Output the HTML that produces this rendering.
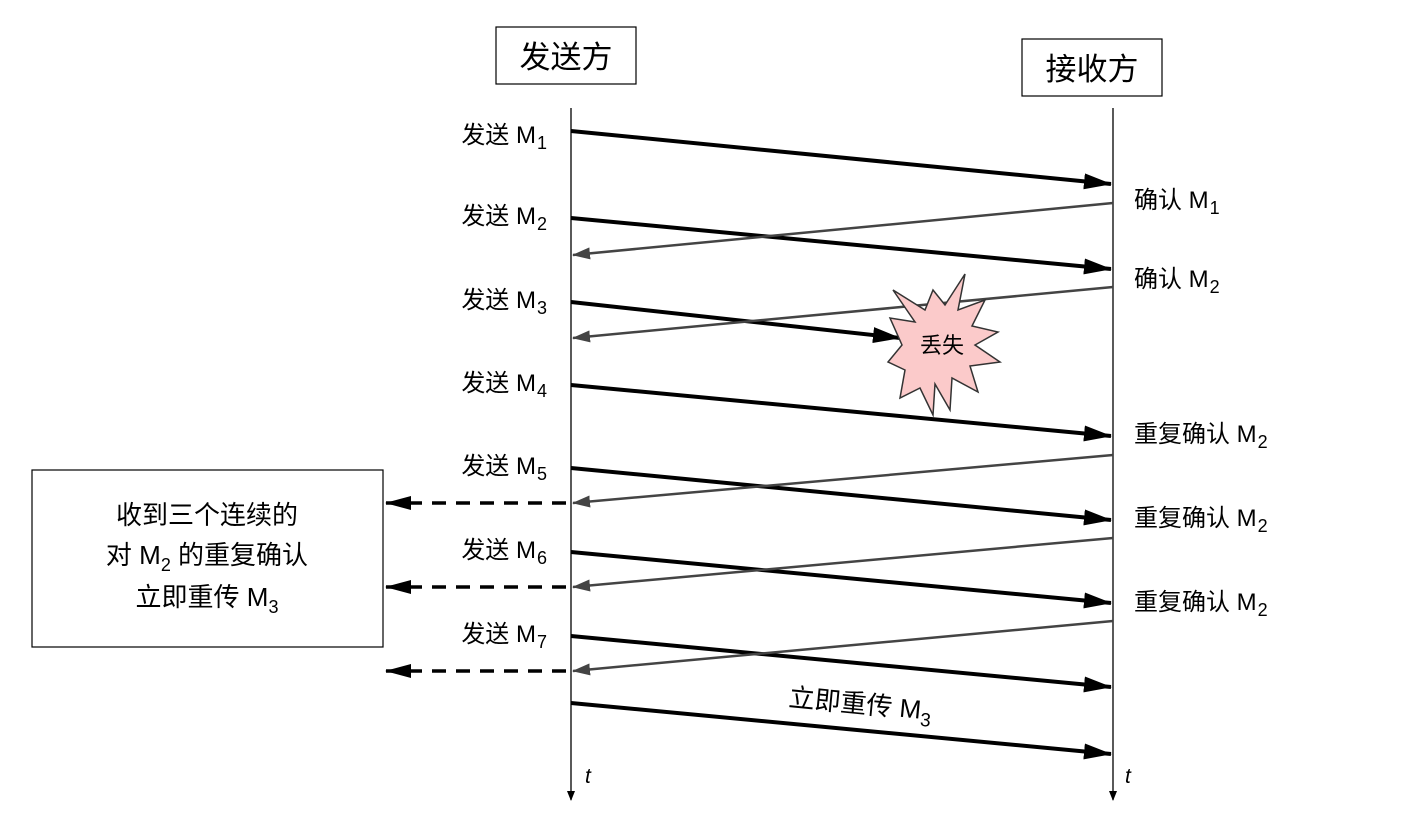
<!DOCTYPE html>
<html><head><meta charset="utf-8"><style>
html,body{margin:0;padding:0;background:#fff;}
svg{display:block;}
text{font-family:"Liberation Sans","Noto Sans CJK SC",sans-serif;fill:#000;}
</style></head><body>
<svg width="1418" height="820" viewBox="0 0 1418 820" xmlns="http://www.w3.org/2000/svg">
<defs>
<marker id="ab" markerWidth="28" markerHeight="16" refX="27" refY="8" orient="auto" markerUnits="userSpaceOnUse"><path d="M0,0 L28,8 L0,16 Z" fill="#000"/></marker>
<marker id="ag" markerWidth="18" markerHeight="12" refX="17" refY="6" orient="auto" markerUnits="userSpaceOnUse"><path d="M0,0 L18,6 L0,12 Z" fill="#444"/></marker>
<marker id="ad" markerWidth="26" markerHeight="14" refX="25" refY="7" orient="auto" markerUnits="userSpaceOnUse"><path d="M0,0 L26,7 L0,14 Z" fill="#000"/></marker>
<marker id="at" markerWidth="10" markerHeight="8" refX="9" refY="4" orient="auto" markerUnits="userSpaceOnUse"><path d="M0,0 L10,4 L0,8 Z" fill="#000"/></marker>
</defs>
<rect x="496" y="27" width="140" height="57" fill="#fff" stroke="#000" stroke-width="1.2"/>
<text x="566" y="68" font-size="31" text-anchor="middle">发送方</text>
<rect x="1022" y="39" width="140" height="57" fill="#fff" stroke="#000" stroke-width="1.2"/>
<text x="1092" y="80" font-size="31" text-anchor="middle">接收方</text>
<line x1="571" y1="108" x2="571" y2="800" stroke="#000" stroke-width="1.3" marker-end="url(#at)"/>
<line x1="1113" y1="108" x2="1113" y2="800" stroke="#000" stroke-width="1.3" marker-end="url(#at)"/>
<text x="585" y="783" font-size="21" font-style="italic">t</text>
<text x="1125" y="783" font-size="21" font-style="italic">t</text>
<g stroke="#000" stroke-width="4" marker-end="url(#ab)">
<line x1="571" y1="131" x2="1111" y2="184"/>
<line x1="571" y1="218" x2="1111" y2="269"/>
<line x1="571" y1="302" x2="900" y2="338"/>
<line x1="571" y1="385" x2="1111" y2="436"/>
<line x1="571" y1="468" x2="1111" y2="520"/>
<line x1="571" y1="552" x2="1111" y2="603"/>
<line x1="571" y1="636" x2="1111" y2="687"/>
<line x1="571" y1="703" x2="1111" y2="754"/>
</g>
<g stroke="#444" stroke-width="2.5" marker-end="url(#ag)">
<line x1="1113" y1="203" x2="573" y2="255"/>
<line x1="1113" y1="287" x2="573" y2="338"/>
<line x1="1113" y1="455" x2="573" y2="503"/>
<line x1="1113" y1="538" x2="573" y2="587"/>
<line x1="1113" y1="621" x2="573" y2="671"/>
</g>
<g stroke="#000" stroke-width="3.5" stroke-dasharray="14,10" marker-end="url(#ad)">
<line x1="566" y1="503" x2="386" y2="503"/>
<line x1="566" y1="587" x2="386" y2="587"/>
<line x1="566" y1="671" x2="386" y2="671"/>
</g>
<polygon points="965,274 958,310 985,300 972,326 998,332 975,345 1000,362 970,366 978,392 952,378 950,410 935,384 933,415 920,388 900,398 905,370 888,362 902,345 890,318 915,322 893,290 925,310 933,290 945,305" fill="#fbcaca" stroke="#333" stroke-width="1.5"/>
<text x="942" y="353" font-size="22" text-anchor="middle">丢失</text>
<g font-size="24" text-anchor="end">
<text x="547" y="143">发送 M<tspan font-size="18" dx="1" dy="6">1</tspan></text>
<text x="547" y="224">发送 M<tspan font-size="18" dx="1" dy="6">2</tspan></text>
<text x="547" y="308">发送 M<tspan font-size="18" dx="1" dy="6">3</tspan></text>
<text x="547" y="391">发送 M<tspan font-size="18" dx="1" dy="6">4</tspan></text>
<text x="547" y="474">发送 M<tspan font-size="18" dx="1" dy="6">5</tspan></text>
<text x="547" y="558">发送 M<tspan font-size="18" dx="1" dy="6">6</tspan></text>
<text x="547" y="642">发送 M<tspan font-size="18" dx="1" dy="6">7</tspan></text>
</g>
<g font-size="24">
<text x="1134" y="208">确认 M<tspan font-size="18" dx="1" dy="6">1</tspan></text>
<text x="1134" y="287">确认 M<tspan font-size="18" dx="1" dy="6">2</tspan></text>
<text x="1134" y="442">重复确认 M<tspan font-size="18" dx="1" dy="6">2</tspan></text>
<text x="1134" y="526">重复确认 M<tspan font-size="18" dx="1" dy="6">2</tspan></text>
<text x="1134" y="610">重复确认 M<tspan font-size="18" dx="1" dy="6">2</tspan></text>
</g>
<text x="788" y="706" font-size="26" transform="rotate(5.5 788 706)">立即重传 M<tspan font-size="19" dy="7">3</tspan></text>
<rect x="32" y="470" width="351" height="177" fill="#fff" stroke="#000" stroke-width="1.2"/>
<g font-size="26" text-anchor="middle">
<text x="207" y="524">收到三个连续的</text>
<text x="207" y="564">对 M<tspan font-size="18" dy="7">2</tspan><tspan dy="-7"> 的重复确认</tspan></text>
<text x="207" y="606">立即重传 M<tspan font-size="18" dy="7">3</tspan></text>
</g>
</svg>
</body></html>
